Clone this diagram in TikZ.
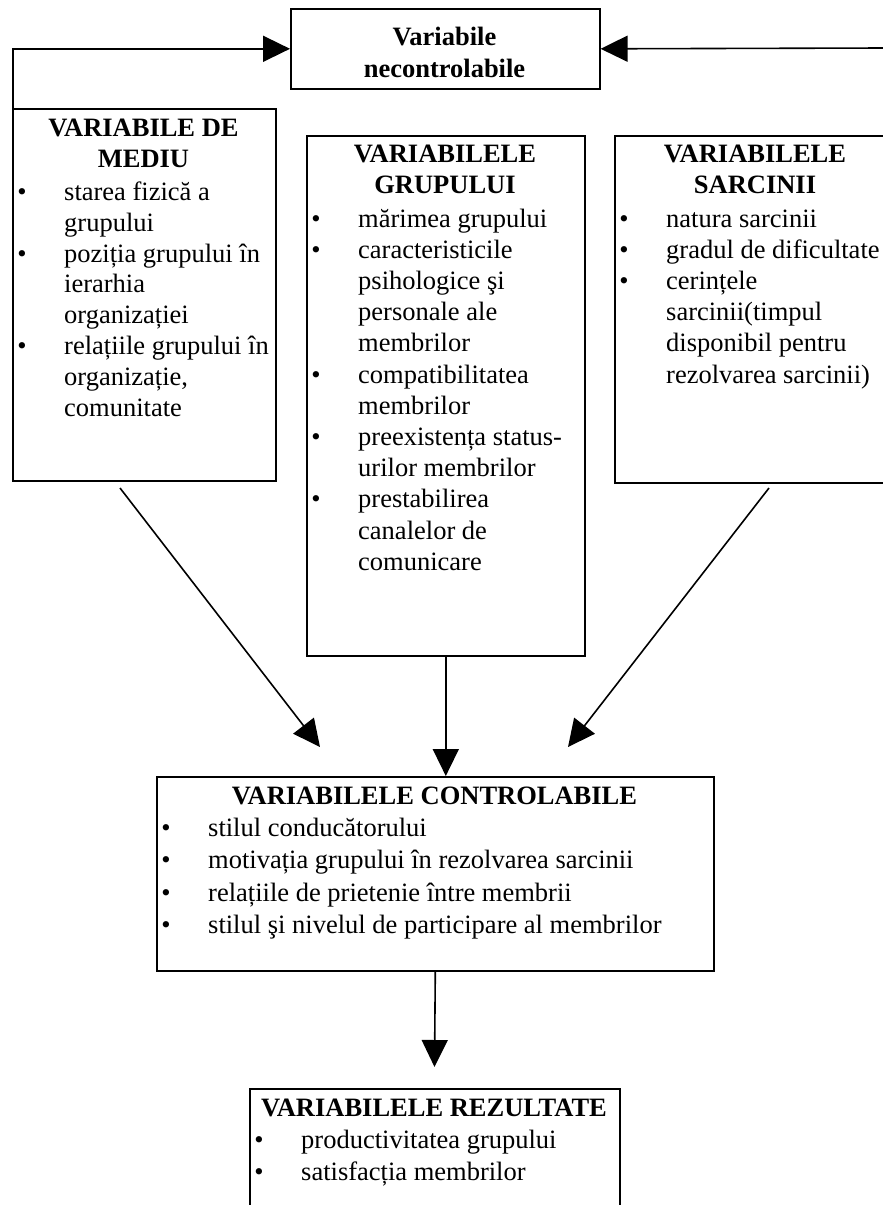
\documentclass[tikz,border=0pt]{standalone}
\usepackage{fontspec}
\setmainfont{Liberation Serif}
\usetikzlibrary{arrows.meta}
\newcommand\bitem[4]{\node[bul] (#1b) at ({#2+10},#3) {\textbullet}; \node[txt] (#1) at ({#2+52},#3) {#4};}
\newcommand\contline[4]{\node[txt] (#1) at ({#2+52},#3) {#4};}
\tikzset{
  box/.style={draw, line width=1.6pt, inner sep=0pt, anchor=north west},
  txt/.style={inner sep=0pt, anchor=base west, font=\fontsize{26.5}{30}\selectfont},
  bul/.style={inner sep=0pt, anchor=base, font=\fontsize{26.5}{30}\selectfont},
  ttl/.style={inner sep=0pt, anchor=base, font=\fontsize{26.5}{30}\selectfont\bfseries},
  conn/.style={line width=1.6pt, -{Triangle[length=27pt,width=26pt]}},
}
\begin{document}
\begin{tikzpicture}[x=1pt,y=-1pt]
\useasboundingbox (0,0) rectangle (883,1205);
\clip (0,0) rectangle (883,1205);
% boxes
\node[box, minimum width=309pt, minimum height=80pt] (nec) at (290,8) {};
\node[box, minimum width=263pt, minimum height=372pt] (mediu) at (12,108) {};
\node[box, minimum width=278pt, minimum height=520pt] (grup) at (306,135) {};
\node[box, minimum width=282pt, minimum height=347pt] (sarc) at (614,135) {};
\node[box, minimum width=557pt, minimum height=194pt] (ctrl) at (156,776) {};
\node[box, minimum width=370pt, minimum height=140pt] (rez) at (249,1088) {};
% top box text
\node[ttl] (nec1) at (444.5,45) {Variabile};
\node[ttl] (nec2) at (444.5,77) {necontrolabile};
% left box
\node[ttl] (m1) at (143.5,136) {VARIABILE DE};
\node[ttl] (m2) at (143.5,167) {MEDIU};
\bitem{m3}{12}{200}{starea fizică a}
\contline{m4}{12}{231}{grupului}
\bitem{m5}{12}{262}{poziția grupului în}
\contline{m6}{12}{292.5}{ierarhia}
\contline{m7}{12}{323.5}{organizației}
\bitem{m8}{12}{354.5}{relațiile grupului în}
\contline{m9}{12}{385}{organizație,}
\contline{m10}{12}{416}{comunitate}
% middle box
\node[ttl] (g1) at (445,162) {VARIABILELE};
\node[ttl] (g2) at (445,193) {GRUPULUI};
\bitem{g3}{306}{227}{mărimea grupului}
\bitem{g4}{306}{258.2}{caracteristicile}
\contline{g5}{306}{289.4}{psihologice şi}
\contline{g6}{306}{320.6}{personale ale}
\contline{g7}{306}{351.8}{membrilor}
\bitem{g8}{306}{383}{compatibilitatea}
\contline{g9}{306}{414.2}{membrilor}
\bitem{g10}{306}{445.4}{preexistența status-}
\contline{g11}{306}{476.6}{urilor membrilor}
\bitem{g12}{306}{507.8}{prestabilirea}
\contline{g13}{306}{539}{canalelor de}
\contline{g14}{306}{570.2}{comunicare}
% right box
\node[ttl] (s1) at (755,162) {VARIABILELE};
\node[ttl] (s2) at (755,193) {SARCINII};
\bitem{s3}{614}{227}{natura sarcinii}
\bitem{s4}{614}{258.2}{gradul de dificultate}
\bitem{s5}{614}{289.4}{cerințele}
\contline{s6}{614}{320.6}{sarcinii(timpul}
\contline{s7}{614}{351.8}{disponibil pentru}
\contline{s8}{614}{383}{rezolvarea sarcinii)}
% controllable box
\node[ttl] (c1) at (434.5,804) {VARIABILELE CONTROLABILE};
\bitem{c2}{156}{836}{stilul conducătorului}
\bitem{c3}{156}{868.5}{motivația grupului în rezolvarea sarcinii}
\bitem{c4}{156}{901}{relațiile de prietenie între membrii}
\bitem{c5}{156}{933.5}{stilul şi nivelul de participare al membrilor}
% result box
\node[ttl] (r1) at (434,1116) {VARIABILELE REZULTATE};
\bitem{r2}{249}{1148}{productivitatea grupului}
\bitem{r3}{249}{1180}{satisfacția membrilor}
% connectors
\coordinate (lstart) at (13,127);
\coordinate (rstart) at (885,48);
\coordinate (a1) at (120,488);
\coordinate (a1e) at (320,747);
\coordinate (a3) at (769,488);
\coordinate (a3e) at (568,747);
\coordinate (a4e) at (434.5,1067);
\draw[conn] (lstart) |- (nec.west);
\draw[conn] (rstart) -- (nec.east);
\draw[conn] (a1) -- (a1e);
\draw[conn] (a3) -- (a3e);
\draw[conn] (grup.south) -- (grup.south |- ctrl.north);
\draw[conn] (ctrl.south) -- (a4e);
\end{tikzpicture}
\end{document}
